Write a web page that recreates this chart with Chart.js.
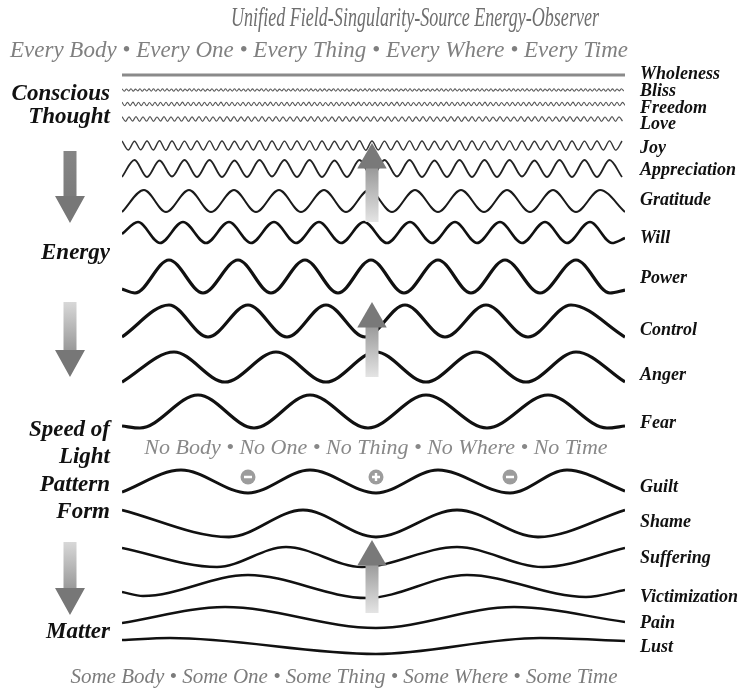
<!DOCTYPE html>
<html lang="en">
<head>
    <meta charset="UTF-8">
    <title>Unified Field - Wave Chart</title>
    <script src="https://cdn.jsdelivr.net/npm/chart.js"></script>
    <style>
        body {
            margin: 0;
            background-color: #ffffff;
            overflow: hidden;
        }
        #waveChart {
            display: block;
        }
    </style>
</head>
<body>
    <canvas id="waveChart" width="744" height="691"></canvas>

    <script>
        // Levels in its own pixel units (y grows downwards)
        const rowStart = 122;

        // Finest rows: evenly spaced turning points, half-wavelength
        const blissStep = 2.25;
        const blissY = [
            88.8,91.2,89,91,88.7,91.2,89.1,90.9,88.8,91.3,89,91,88.9,91.1,88.8,91.2,
            89,91.1,88.8,91.2,88.9,91,89,91.3,88.7,91.1,88.9,91.2,89,90.9,88.8,91.1,
            88.8,91.2,89,91,88.7,91.2,89.1,90.9,88.8,91.3,89,91,88.9,91.1,88.8,91.2,
            89,91.1,88.8,91.2,88.9,91,89,91.3,88.7,91.1,88.9,91.2,89,90.9,88.8,91.1,
            88.8,91.2,89,91,88.7,91.2,89.1,90.9,88.8,91.3,89,91,88.9,91.1,88.8,91.2,
            89,91.1,88.8,91.2,88.9,91,89,91.3,88.7,91.1,88.9,91.2,89,90.9,88.8,91.1,
            88.8,91.2,89,91,88.7,91.2,89.1,90.9,88.8,91.3,89,91,88.9,91.1,88.8,91.2,
            89,91.1,88.8,91.2,88.9,91,89,91.3,88.7,91.1,88.9,91.2,89,90.9,88.8,91.1,
            88.8,91.2,89,91,88.7,91.2,89.1,90.9,88.8,91.3,89,91,88.9,91.1,88.8,91.2,
            89,91.1,88.8,91.2,88.9,91,89,91.3,88.7,91.1,88.9,91.2,89,90.9,88.8,91.1,
            88.8,91.2,89,91,88.7,91.2,89.1,90.9,88.8,91.3,89,91,88.9,91.1,88.8,91.2,
            89,91.1,88.8,91.2,88.9,91,89,91.3,88.7,91.1,88.9,91.2,89,90.9,88.8,91.1,
            88.8,91.2,89,91,88.7,91.2,89.1,90.9,88.8,91.3,89,91,88.9,91.1,88.8,91.2,
            89,91.1,88.8,91.2,88.9,91,89,91.3,88.7,91.1,88.9,91.2,89,90.9,88.8,91.1
        ];

        const freedomStep = 2.75;
        const freedomY = [
            102.2,105.8,102.4,105.6,102.1,105.9,102.3,105.7,102.2,105.8,102.5,105.6,102.2,105.9,102.3,105.7,
            102.3,105.7,102.2,105.9,102.4,105.6,102.1,105.8,102.3,105.7,102.2,105.8,102.4,105.9,102.2,105.6,
            102.2,105.8,102.4,105.6,102.1,105.9,102.3,105.7,102.2,105.8,102.5,105.6,102.2,105.9,102.3,105.7,
            102.3,105.7,102.2,105.9,102.4,105.6,102.1,105.8,102.3,105.7,102.2,105.8,102.4,105.9,102.2,105.6,
            102.2,105.8,102.4,105.6,102.1,105.9,102.3,105.7,102.2,105.8,102.5,105.6,102.2,105.9,102.3,105.7,
            102.3,105.7,102.2,105.9,102.4,105.6,102.1,105.8,102.3,105.7,102.2,105.8,102.4,105.9,102.2,105.6,
            102.2,105.8,102.4,105.6,102.1,105.9,102.3,105.7,102.2,105.8,102.5,105.6,102.2,105.9,102.3,105.7,
            102.3,105.7,102.2,105.9,102.4,105.6,102.1,105.8,102.3,105.7,102.2,105.8,102.4,105.9,102.2,105.6,
            102.2,105.8,102.4,105.6,102.1,105.9,102.3,105.7,102.2,105.8,102.5,105.6,102.2,105.9,102.3,105.7,
            102.3,105.7,102.2,105.9,102.4,105.6,102.1,105.8,102.3,105.7,102.2,105.8,102.4,105.9,102.2,105.6,
            102.2,105.8,102.4,105.6,102.1,105.9,102.3,105.7,102.2,105.8,102.5,105.6,102.2,105.9,102.3,105.7,
            102.2,105.8,102.3,105.7,102.2,105.8,102.4,105.6
        ];

        const loveStep = 3.5;
        const loveY = [
            116.7,121.3,116.9,121.1,116.6,121.4,116.8,121.2,116.7,121.3,117,121.1,116.7,121.4,116.8,121.2,
            116.8,121.2,116.7,121.3,116.9,121.1,116.7,121.4,116.6,121.3,116.8,121.2,116.9,121.3,116.7,121.1,
            116.7,121.3,116.9,121.1,116.6,121.4,116.8,121.2,116.7,121.3,117,121.1,116.7,121.4,116.8,121.2,
            116.8,121.2,116.7,121.3,116.9,121.1,116.7,121.4,116.6,121.3,116.8,121.2,116.9,121.3,116.7,121.1,
            116.7,121.3,116.9,121.1,116.6,121.4,116.8,121.2,116.7,121.3,117,121.1,116.7,121.4,116.8,121.2,
            116.8,121.2,116.7,121.3,116.9,121.1,116.7,121.4,116.6,121.3,116.8,121.2,116.9,121.3,116.7,121.1,
            116.7,121.3,116.9,121.1,116.6,121.4,116.8,121.2,116.7,121.3,117,121.1,116.7,121.4,116.8,121.2,
            116.8,121.2,116.7,121.3,116.9,121.1,116.7,121.4,116.6,121.3,116.8,121.2,116.9,121.3,116.7,121.1,
            116.7,121.3,116.9,121.1,116.6,121.4,116.8,121.2,116.7,121.3,117,121.1,116.7,121.4,116.8,121.2
        ];

        const joyStep = 6.25;
        const joyY = [
            141,150,141.2,149.8,141,150,140.8,150.2,141,150,141.1,149.9,141,150,140.9,150.1,
            141,150,141.2,149.8,141,150,140.8,150.2,141,150,141.1,149.9,141,150,140.9,150.1,
            141,150,141.2,149.8,141,150,140.8,150.2,141,150,141.1,149.9,141,150,140.9,150.1,
            141,150,141.2,149.8,141,150,140.8,150.2,141,150,141.1,149.9,141,150,140.9,150.1,
            141,150,141.2,149.8,141,150,140.8,150.2,141,150,141.1,149.9,141,150,140.9,150.1,
            141
        ];

        const appreciationStep = 12.5;
        const appreciationY = [
            177,160,177,160.5,176.5,160,177,160,177,160.5,
            177,160,176.5,160,177,160,177,160.5,177,160,
            177,160,176.5,160,177,160.5,177,160,177,160,
            177,160,176.5,160.5,177,160,177,160,177,160,
            177
        ];

        // Wider rows: turning points read one by one
        const wholenessX = [122, 625];
        const wholenessY = [75, 75];

        const gratitudeX = [122,144,166,189,211,234,256,279,301,324,346,369,392,415,438,461,484,507,530,553,576,600,625];
        const gratitudeY = [212,190,212,190,212,190,212,190,212,190,212,190,212,190,212,190,212,190,212,190,212,190,212];

        const willX = [122,138,160,183,206,229,251,274,296,319,341,364,387,410,432,455,477,500,522,545,567,590,612,625];
        const willY = [234,222,243,222,243,222,243,222,243,222,243,222,243,222,243,222,243,222,243,222,243,222,243,238];

        const powerX = [122,135,169,203,238,271,305,338,371,404,438,471,505,540,576,610,625];
        const powerY = [289,293,260,293,260,293,260,293,260,293,260,293,260,293,260,293,290];

        const controlX = [122,169,208,248,287,326,365,405,445,486,528,571,625];
        const controlY = [337,305,337,305,337,305,337,305,337,305,337,305,337];

        const angerX = [122,174,225,276,326,376,426,476,526,576,625];
        const angerY = [382,352,382,352,382,352,382,352,382,352,382];

        const fearX = [122,140,198,254,310,368,426,487,548,607,625];
        const fearY = [426,428,395,428,395,428,395,428,395,428,426];

        const guiltX = [122,181,248,310,376,438,510,567,625];
        const guiltY = [492,470,493,470,493,470,493,470,491];

        const shameX = [122,229,303,376,457,538,625];
        const shameY = [510,537,510,537,510,537,510];

        const sufferingX = [122,217,286,362,457,543,625];
        const sufferingY = [548,567,547,567,547,567,548];

        const victimizationX = [122,143,248,367,467,586,625];
        const victimizationY = [592,596,575,598,575,597,590];

        const painX = [122,225,376,514,625];
        const painY = [623,607,628,607,622];

        const lustX = [122,170,376,540,625];
        const lustY = [640,638,654,638,641];

        // Axis labels
        const rightLabels = ['Wholeness', 'Bliss', 'Freedom', 'Love', 'Joy', 'Appreciation', 'Gratitude', 'Will', 'Power',
            'Control', 'Anger', 'Fear', 'Guilt', 'Shame', 'Suffering', 'Victimization', 'Pain', 'Lust'];
        const rightLevels = [74, 91, 108, 124, 148, 170, 200, 238, 278, 330, 375, 423, 487, 522, 558, 597, 623, 647];

        const leftLabels = [['Conscious', 'Thought'], 'Energy', ['Speed of', 'Light', 'Pattern', 'Form'], 'Matter'];
        const leftLevels = [106, 253, 471, 632];

        // Arrows and the -, +, - markers
        const leftArrowX = 70;
        const leftArrowTops = [151, 302, 542];
        const leftArrowTips = [223, 377, 615];
        const centerArrowX = 372;
        const centerArrowTips = [143, 302, 540];
        const centerArrowBottoms = [222, 377, 613];

        const signX = [248, 376, 510];
        const signY = [477, 477, 477];
        const signStyles = ['line', 'cross', 'line'];

        // Text lines of the picture
        const textLines = [
            { text: 'Unified Field-Singularity-Source Energy-Observer', x: 415, y: 19, size: 27, color: '#6e6e6e', maxWidth: 368 },
            { text: 'Every Body \u2022 Every One \u2022 Every Thing \u2022 Every Where \u2022 Every Time', x: 319, y: 51, size: 23, color: '#808080', maxWidth: 618 },
            { text: 'No Body \u2022 No One \u2022 No Thing \u2022 No Where \u2022 No Time', x: 376, y: 448, size: 22, color: '#888888', maxWidth: 496 },
            { text: 'Some Body \u2022 Some One \u2022 Some Thing \u2022 Some Where \u2022 Some Time', x: 344, y: 677, size: 21, color: '#7c7c7c', maxWidth: 562 }
        ];

        const serif = '"Liberation Serif", "DejaVu Serif", serif';

        function pair(xs, ys) {
            return xs.map((x, i) => ({ x: x, y: ys[i] }));
        }

        function evenly(ys, step) {
            return ys.map((y, i) => ({ x: rowStart + i * step, y: y }));
        }

        const waves = [
            { data: pair(wholenessX, wholenessY), width: 3, color: '#8a8a8a' },
            { data: evenly(blissY, blissStep), width: 1.1, color: '#5a5a5a' },
            { data: evenly(freedomY, freedomStep), width: 1.1, color: '#555555' },
            { data: evenly(loveY, loveStep), width: 1.2, color: '#555555' },
            { data: evenly(joyY, joyStep), width: 1.4, color: '#333333' },
            { data: evenly(appreciationY, appreciationStep), width: 1.8, color: '#222222' },
            { data: pair(gratitudeX, gratitudeY), width: 2, color: '#1a1a1a' },
            { data: pair(willX, willY), width: 2.6, color: '#111111' },
            { data: pair(powerX, powerY), width: 3.2, color: '#111111' },
            { data: pair(controlX, controlY), width: 3.2, color: '#111111' },
            { data: pair(angerX, angerY), width: 3.2, color: '#111111' },
            { data: pair(fearX, fearY), width: 3.2, color: '#111111' },
            { data: pair(guiltX, guiltY), width: 3, color: '#111111' },
            { data: pair(shameX, shameY), width: 2.8, color: '#111111' },
            { data: pair(sufferingX, sufferingY), width: 2.5, color: '#111111' },
            { data: pair(victimizationX, victimizationY), width: 2.5, color: '#111111' },
            { data: pair(painX, painY), width: 2.4, color: '#111111' },
            { data: pair(lustX, lustY), width: 2.4, color: '#111111' }
        ];

        const headRadius = 17;
        const shaftWidth = 13;
        // left heads sit outside the plot area, so they are stroked as a thick mitred outline
        const headStroke = 8.8;
        const headInner = { tip: 9.1, base: 22.6, half: 7.5 };

        // vertical gradient between two levels of the y scale
        function shaftGradient(from, to, colorFrom, colorTo) {
            return (context) => {
                const chart = context.chart;
                const yScale = chart.scales.y;
                if (!yScale) {
                    return colorTo;
                }
                const y0 = yScale.getPixelForValue(from);
                const y1 = yScale.getPixelForValue(to);
                if (!isFinite(y0) || !isFinite(y1) || y0 === y1) {
                    return colorTo;
                }
                const g = chart.ctx.createLinearGradient(0, y0, 0, y1);
                g.addColorStop(0, colorFrom);
                g.addColorStop(1, colorTo);
                return g;
            };
        }

        const datasets = waves.map(w => ({
            type: 'line',
            data: w.data,
            borderColor: w.color,
            borderWidth: w.width,
            pointRadius: 0,
            cubicInterpolationMode: 'monotone',
            fill: false,
            order: 3
        }));

        leftArrowTops.forEach((top, i) => {
            const tip = leftArrowTips[i];
            datasets.push({
                type: 'line',
                data: [{ x: leftArrowX, y: top }, { x: leftArrowX, y: tip - 24 }],
                borderColor: i === 0 ? shaftGradient(top, tip, '#858585', '#777777') : shaftGradient(top, tip, '#d8d8d8', '#777777'),
                borderWidth: shaftWidth,
                borderCapStyle: 'butt',
                pointRadius: 0,
                clip: false,
                order: 2
            });
            datasets.push({
                type: 'line',
                data: [
                    { x: leftArrowX, y: tip - headInner.base },
                    { x: leftArrowX + headInner.half, y: tip - headInner.base },
                    { x: leftArrowX, y: tip - headInner.tip },
                    { x: leftArrowX - headInner.half, y: tip - headInner.base },
                    { x: leftArrowX, y: tip - headInner.base }
                ],
                borderColor: '#777777',
                borderWidth: headStroke,
                borderJoinStyle: 'miter',
                borderCapStyle: 'butt',
                tension: 0,
                pointRadius: 0,
                clip: false,
                order: 1
            });
        });

        centerArrowTips.forEach((tip, i) => {
            const bottom = centerArrowBottoms[i];
            datasets.push({
                type: 'line',
                data: [{ x: centerArrowX, y: bottom }, { x: centerArrowX, y: tip + 24 }],
                borderColor: shaftGradient(tip, bottom, '#777777', '#e4e4e4'),
                borderWidth: shaftWidth,
                borderCapStyle: 'butt',
                pointRadius: 0,
                clip: false,
                order: 2
            });
        });

        datasets.push({
            type: 'line',
            showLine: false,
            data: centerArrowTips.map(t => ({ x: centerArrowX, y: t + headRadius })),
            pointStyle: 'triangle',
            rotation: 0,
            pointRadius: headRadius,
            pointBackgroundColor: '#797979',
            pointBorderWidth: 0,
            clip: false,
            order: 1
        });

        // grey discs with white signs
        datasets.push({
            type: 'line',
            showLine: false,
            data: pair(signX, signY),
            pointStyle: 'circle',
            pointRadius: 7.5,
            pointBackgroundColor: '#9c9c9c',
            pointBorderWidth: 0,
            order: 0
        });
        datasets.push({
            type: 'line',
            showLine: false,
            data: pair(signX, signY),
            pointStyle: signStyles,
            pointRadius: 4,
            pointBorderColor: '#ffffff',
            pointBorderWidth: 2.4,
            order: -1
        });

        const textPlugin = {
            id: 'pictureText',
            afterDraw(chart) {
                const c = chart.ctx;
                c.save();
                c.textAlign = 'center';
                c.textBaseline = 'middle';
                textLines.forEach(t => {
                    c.font = `italic ${t.size}px ${serif}`;
                    c.fillStyle = t.color;
                    c.fillText(t.text, t.x, t.y, t.maxWidth);
                });
                c.restore();
            }
        };

        const chart = new Chart(document.getElementById('waveChart'), {
            type: 'line',
            data: { datasets: datasets },
            options: {
                responsive: false,
                animation: false,
                events: [],
                layout: { padding: 0 },
                plugins: {
                    legend: { display: false },
                    tooltip: { enabled: false },
                    title: { display: false }
                },
                scales: {
                    x: {
                        type: 'linear',
                        display: false,
                        min: 122,
                        max: 625
                    },
                    y: {
                        type: 'linear',
                        position: 'left',
                        reverse: true,
                        min: 0,
                        max: 691,
                        grid: { display: false, drawTicks: false },
                        border: { display: false },
                        afterFit: (scale) => { scale.width = 122; },
                        afterBuildTicks: (scale) => { scale.ticks = leftLevels.map(v => ({ value: v })); },
                        ticks: {
                            autoSkip: false,
                            padding: 12,
                            color: '#111111',
                            font: (ctx) => ({
                                family: serif,
                                style: 'italic',
                                weight: 'bold',
                                size: 23,
                                lineHeight: ctx.index === 0 ? 1.0 : 1.2
                            }),
                            callback: (value, index) => leftLabels[index]
                        }
                    },
                    y2: {
                        type: 'linear',
                        axis: 'y',
                        position: 'right',
                        reverse: true,
                        min: 0,
                        max: 691,
                        grid: { display: false, drawTicks: false },
                        border: { display: false },
                        afterFit: (scale) => { scale.width = 119; },
                        afterBuildTicks: (scale) => { scale.ticks = rightLevels.map(v => ({ value: v })); },
                        ticks: {
                            autoSkip: false,
                            padding: 15,
                            color: '#111111',
                            font: { family: serif, style: 'italic', weight: 'bold', size: 18 },
                            callback: (value, index) => rightLabels[index]
                        }
                    }
                }
            },
            plugins: [textPlugin]
        });

        // make the value axes line up with the picture's pixel grid
        const area = chart.chartArea;
        chart.options.scales.x.min = area.left;
        chart.options.scales.x.max = area.right;
        chart.options.scales.y.min = area.top;
        chart.options.scales.y.max = area.bottom;
        chart.options.scales.y2.min = area.top;
        chart.options.scales.y2.max = area.bottom;
        chart.update('none');
    </script>
</body>
</html>
